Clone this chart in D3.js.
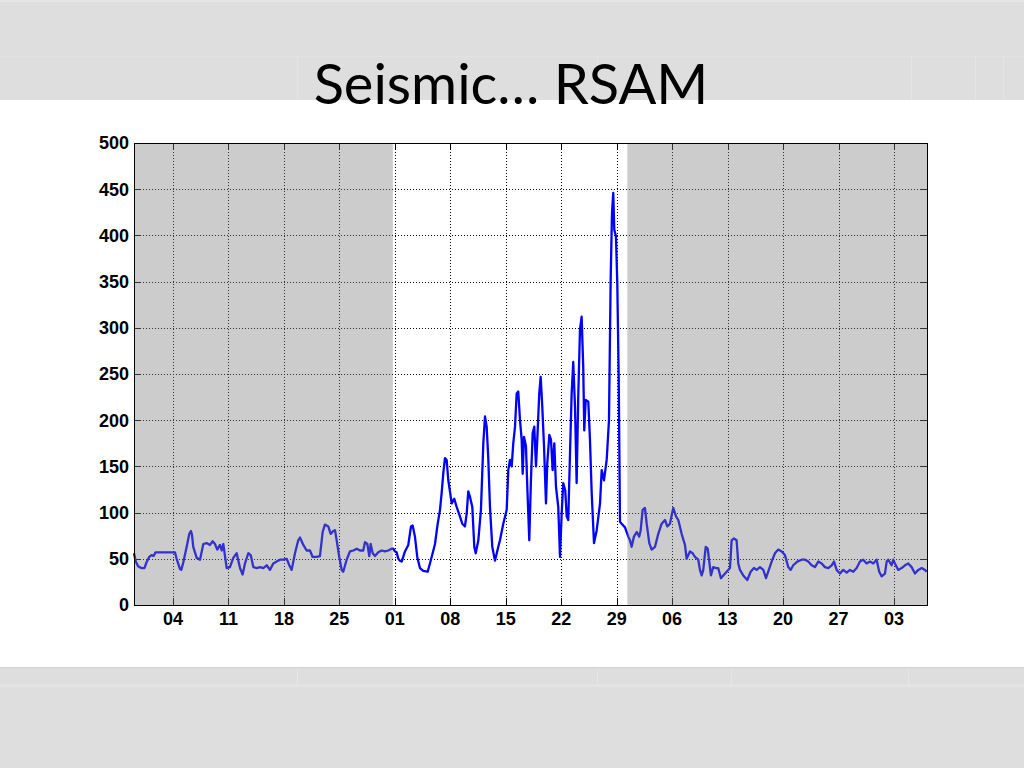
<!DOCTYPE html>
<html>
<head>
<meta charset="utf-8">
<script src="https://cdn.jsdelivr.net/npm/d3@7"></script>
<style>
  html, body { margin: 0; padding: 0; background: #ffffff; }
  svg { display: block; }
</style>
</head>
<body>
<svg id="chart" width="1024" height="768"></svg>
<script>
// ---------------- DATA ----------------
const titleText = "Seismic\u2026 RSAM";
const baseDate = "2011-03-01";           // day offsets are counted from this date (UTC)
const domainDays = [-1.92, 98.17];       // x-axis extent, in days from baseDate

// RSAM time series: time (days from baseDate) and value
const dayOffset = [
  -1.92,-1.7,-1.4,-1.0,-0.6,-0.35,0.0,0.3,0.55,0.8,3.25,3.46,3.88,4.05,4.30,4.73,5.06,5.27,5.4,5.56,
  5.99,6.41,6.83,7.25,7.67,8.01,8.30,8.59,8.93,9.15,9.35,9.78,10.19,10.61,11.04,11.46,11.79,12.09,12.51,12.81,
  13.14,13.56,13.98,14.40,14.83,15.24,15.66,16.09,16.51,16.92,17.35,17.68,17.98,18.40,18.81,19.03,19.45,19.87,20.29,20.63,
  21.14,21.55,21.89,22.18,22.60,22.90,23.23,23.45,23.66,23.99,24.29,24.49,24.92,25.34,25.76,26.19,26.60,27.02,27.23,27.53,
  27.78,27.95,28.21,28.50,28.91,29.34,29.76,30.17,30.60,30.81,31.02,31.23,31.44,31.65,31.87,32.28,32.70,33.04,33.25,33.54,
  33.83,34.17,34.59,35.15,35.65,36.07,36.41,36.70,36.91,37.12,37.33,37.54,37.75,38.18,38.50,38.81,39.22,39.51,39.85,40.07,
  40.27,40.49,40.78,41.03,41.21,41.54,41.87,42.17,42.38,42.59,42.79,43.01,43.30,43.64,44.06,44.27,44.69,45.12,45.32,45.53,
  45.75,45.95,46.17,46.38,46.58,46.80,47.01,47.14,47.30,47.55,47.72,47.97,48.18,48.40,48.60,48.82,48.98,49.23,49.41,49.61,
  49.83,50.08,50.24,50.50,50.71,50.92,51.13,51.34,51.63,51.85,52.06,52.26,52.51,52.69,52.89,53.11,53.32,53.52,53.74,53.95,
  54.15,54.37,54.58,54.78,54.91,55.09,55.42,55.63,55.85,56.14,56.48,56.90,57.11,57.40,57.74,58.03,58.24,58.41,58.57,58.70,
  58.91,59.08,59.26,59.42,59.63,60.05,60.47,60.68,60.89,61.18,61.53,61.85,62.03,62.28,62.57,62.79,63.12,63.42,63.84,64.25,
  64.68,65.10,65.39,65.73,65.94,66.15,66.49,66.78,67.20,67.62,67.83,68.25,68.59,68.88,69.30,69.51,69.73,69.93,70.24,70.49,
  70.69,70.90,71.19,71.53,71.82,72.16,72.46,72.88,73.30,73.51,73.80,74.14,74.35,74.56,74.98,75.49,75.91,76.33,76.67,77.09,
  77.51,77.85,78.13,78.56,78.98,79.40,79.83,80.24,80.66,80.96,81.29,81.80,82.35,82.77,83.18,83.61,84.03,84.45,84.88,85.29,
  85.71,86.14,86.43,86.77,87.18,87.60,88.03,88.44,88.86,89.29,89.71,90.12,90.55,90.97,91.39,91.81,92.14,92.45,92.86,93.08,
  93.28,93.70,93.91,94.12,94.54,94.97,95.39,95.80,96.23,96.65,97.07,97.50,97.91,98.13
];
const rsam = [
  56,47,42,40,40,46,52,54,53,57,57,50,39,38,46,63,77,80,76,63,
  51,49,66,67,65,69,66,60,65,59,66,40,41,51,56,40,33,45,56,54,
  41,40,41,40,43,38,45,47,49,49,50,43,38,56,70,73,65,59,59,52,
  52,53,79,87,85,77,80,81,70,52,38,36,49,58,59,61,59,59,68,66,
  53,66,56,53,57,59,58,59,61,61,58,57,50,48,47,58,65,85,86,74,
  52,40,37,36,52,66,88,103,121,143,159,157,135,110,115,106,96,88,85,99,
  123,117,106,63,56,70,103,175,204,193,160,106,63,48,63,70,88,103,146,157,
  150,175,193,229,231,200,179,142,182,172,128,70,135,186,193,150,179,229,247,215,
  172,110,153,184,179,146,175,128,106,52,99,132,124,96,92,164,229,263,215,132,
  225,298,312,258,189,222,220,179,121,67,81,110,146,135,157,200,351,424,446,406,
  399,348,244,90,88,84,74,70,63,74,79,74,81,103,105,88,67,60,63,77,
  88,92,85,88,97,105,96,92,77,65,50,58,56,52,49,38,32,38,63,61,
  47,32,41,40,40,29,32,36,40,70,72,70,45,38,32,27,36,40,38,41,
  38,29,36,47,56,60,58,54,41,38,43,47,49,49,47,43,41,47,45,41,
  40,43,47,38,34,38,35,38,36,40,47,49,45,47,45,49,36,31,34,47,
  49,43,49,45,38,40,43,45,41,34,38,40,38,36
];

// quiet (shaded) periods, in days from baseDate
const shadeStart = [-1.92, 60.35];
const shadeEnd   = [30.75, 98.17];

// axis ticks
const xTickDates = ["2011-03-04","2011-03-11","2011-03-18","2011-03-25","2011-04-01","2011-04-08","2011-04-15",
                    "2011-04-22","2011-04-29","2011-05-06","2011-05-13","2011-05-20","2011-05-27","2011-06-03"];
const yTicks = [0, 50, 100, 150, 200, 250, 300, 350, 400, 450, 500];

// ---------------- DRAW ----------------
const svg = d3.select("#chart");
const W = 1024, H = 768;
const plot = { left: 134, top: 143, right: 927, bottom: 605 };
const base = Date.parse(baseDate + "T00:00:00Z");
const toDate = d => new Date(base + d * 864e5);

// slide background
svg.append("rect").attr("x", 0).attr("y", 0).attr("width", W).attr("height", H).attr("fill", "#ffffff");
svg.append("rect").attr("x", 0).attr("y", 0).attr("width", W).attr("height", 100).attr("fill", "#dedede");
svg.append("rect").attr("x", 0).attr("y", 0).attr("width", W).attr("height", 2).attr("fill", "#e6e6e6");
svg.append("rect").attr("x", 0).attr("y", 56).attr("width", W).attr("height", 1).attr("fill", "#e2e2e2");
[297, 597, 911, 975, 1003].forEach(x => {
  svg.append("rect").attr("x", x).attr("y", 57).attr("width", 1).attr("height", 43).attr("fill", "#e4e4e4");
});
svg.append("rect").attr("x", 0).attr("y", 667).attr("width", W).attr("height", H - 667).attr("fill", "#dedede");
svg.append("rect").attr("x", 0).attr("y", 667).attr("width", W).attr("height", 1).attr("fill", "#d2d2d2");
svg.append("rect").attr("x", 0).attr("y", 684).attr("width", W).attr("height", 3).attr("fill", "#e3e3e3");
[297, 597, 731, 908].forEach(x => {
  svg.append("rect").attr("x", x).attr("y", 670).attr("width", 1).attr("height", 15).attr("fill", "#e6e6e6");
});

// title
svg.append("text")
  .attr("x", 511).attr("y", 104)
  .attr("text-anchor", "middle")
  .attr("font-family", "Lato, 'Open Sans', sans-serif")
  .attr("font-size", 56)
  .attr("fill", "#000000")
  .text(titleText);

// scales
const x = d3.scaleUtc().domain(domainDays.map(toDate)).range([plot.left, plot.right]);
const y = d3.scaleLinear().domain([0, 500]).range([plot.bottom, plot.top]);
const xTicks = xTickDates.map(s => new Date(s + "T00:00:00Z"));
const fmt = d3.utcFormat("%d");

// plot area
svg.append("rect")
  .attr("x", plot.left).attr("y", plot.top)
  .attr("width", plot.right - plot.left).attr("height", plot.bottom - plot.top)
  .attr("fill", "#ffffff");

// grid
const grid = svg.append("g").attr("stroke", "#000").attr("stroke-width", 1)
  .attr("stroke-dasharray", "1,2").attr("shape-rendering", "crispEdges");
xTicks.forEach(t => {
  const px = Math.round(x(t)) + 0.5;
  grid.append("line").attr("x1", px).attr("x2", px).attr("y1", plot.top).attr("y2", plot.bottom);
});
yTicks.filter(v => v > 0 && v < 500).forEach(v => {
  const py = Math.round(y(v)) + 0.5;
  grid.append("line").attr("x1", plot.left).attr("x2", plot.right).attr("y1", py).attr("y2", py);
});

// inward ticks (all four sides)
const tk = svg.append("g").attr("stroke", "#000").attr("stroke-width", 1).attr("shape-rendering", "crispEdges");
const TL = 7;
xTicks.forEach(t => {
  const px = Math.round(x(t)) + 0.5;
  tk.append("line").attr("x1", px).attr("x2", px).attr("y1", plot.bottom).attr("y2", plot.bottom - TL);
  tk.append("line").attr("x1", px).attr("x2", px).attr("y1", plot.top).attr("y2", plot.top + TL);
});
yTicks.forEach(v => {
  const py = Math.round(y(v)) + 0.5;
  tk.append("line").attr("x1", plot.left).attr("x2", plot.left + TL).attr("y1", py).attr("y2", py);
  tk.append("line").attr("x1", plot.right).attr("x2", plot.right - TL).attr("y1", py).attr("y2", py);
});

// data line
const series = dayOffset.map((d, i) => ({ t: toDate(d), v: rsam[i] }));
const line = d3.line().x(d => x(d.t)).y(d => y(d.v));
svg.append("path")
  .datum(series)
  .attr("d", line)
  .attr("fill", "none")
  .attr("stroke", "#0000ff")
  .attr("stroke-width", 2.3)
  .attr("stroke-linejoin", "round");

// translucent gray overlays for quiet periods
shadeStart.forEach((s, i) => {
  const x0 = x(toDate(s)), x1 = x(toDate(shadeEnd[i]));
  svg.append("rect")
    .attr("x", x0).attr("y", plot.top)
    .attr("width", x1 - x0).attr("height", plot.bottom - plot.top)
    .attr("fill", "#808080").attr("fill-opacity", 0.4);
});

// axes box
svg.append("rect")
  .attr("x", plot.left + 0.5).attr("y", plot.top + 0.5)
  .attr("width", plot.right - plot.left).attr("height", plot.bottom - plot.top)
  .attr("fill", "none").attr("stroke", "#000").attr("stroke-width", 1)
  .attr("shape-rendering", "crispEdges");

// tick labels
const lab = svg.append("g")
  .attr("font-family", "'Liberation Sans', Arial, Helvetica, sans-serif")
  .attr("font-weight", "bold").attr("font-size", 18).attr("fill", "#000");
yTicks.forEach(v => {
  lab.append("text").attr("x", 129).attr("y", y(v)).attr("dy", "0.35em")
    .attr("text-anchor", "end").text(v);
});
xTicks.forEach(t => {
  lab.append("text").attr("x", x(t)).attr("y", 625)
    .attr("text-anchor", "middle").text(fmt(t));
});
</script>
</body>
</html>
